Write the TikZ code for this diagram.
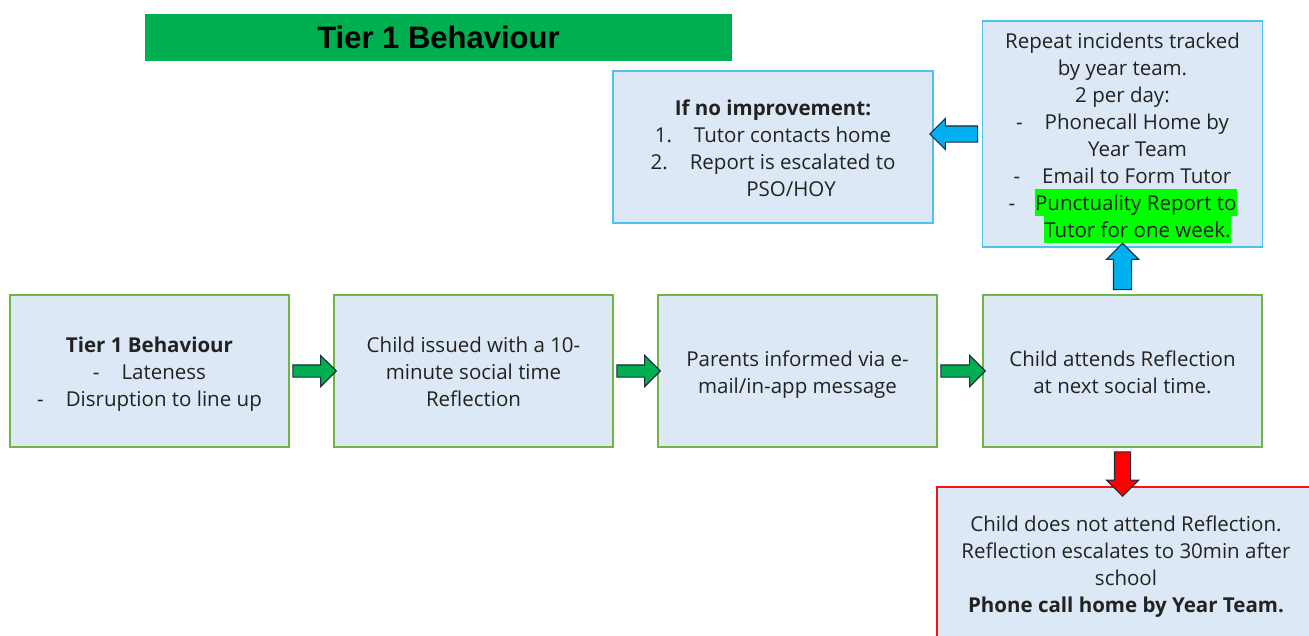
\documentclass[tikz,border=0pt]{standalone}
\usepackage{fontspec}
\setmainfont{Open Sans}
\newfontfamily\headfont{Liberation Sans}
\usetikzlibrary{shapes.arrows,calc}

\definecolor{boxfill}{HTML}{DCE8F5}
\definecolor{greenline}{HTML}{70B544}
\definecolor{blueline}{HTML}{4FC3F0}
\definecolor{redline}{HTML}{FF1010}
\definecolor{titlegreen}{HTML}{00B050}
\definecolor{arrowgreen}{HTML}{00B050}
\definecolor{arrowblue}{HTML}{00B0F0}
\definecolor{arrowred}{HTML}{FF0000}
\definecolor{arrowline}{HTML}{1C2D3E}
\definecolor{bodytext}{HTML}{222222}
\definecolor{hlgreen}{HTML}{00FF00}

% highlighted text run, as tall as one line
\newcommand\hlrun[1]{{\setlength{\fboxsep}{0pt}\colorbox{hlgreen}{\rule[-5.5pt]{0pt}{27pt}#1}}}

% block arrow drawn from one point to another
\newcommand\blockarrow[4]{%
  \path let \p1=(#3), \p2=(#4),
            \n1={atan2(\y2-\y1,\x2-\x1)},
            \n2={veclen(\x2-\x1,\y2-\y1)} in
    ($(\p1)!0.5!(\p2)$) node[#1, rotate=\n1, minimum height=\n2] (#2) {};}

% box with its centred block of text: style, name, position, text
\newcommand\cardnode[4]{%
  \node[#1] (#2) at (#3) {};
  \node[cardtext] (#2-text) at ([yshift=-4pt]#2.center) {#4};}

\tikzset{
  x=1pt, y=-1pt,
  cardtext/.style={font=\fontsize{20.5}{27}\selectfont, text=bodytext,
                   align=center, inner sep=0pt,
                   execute at end node={\rule[-6pt]{0pt}{0pt}}},
  card/.style={draw, line width=1.6pt, fill=boxfill, inner sep=0pt,
               minimum width=#1},
  card/.default=279pt,
  flowcard/.style={card, draw=greenline, minimum height=152pt},
  bluecard/.style={card=#1, draw=blueline},
  blockbase/.style={single arrow, draw=arrowline, line width=1.1pt, inner xsep=0pt,
                    single arrow head indent=0pt, single arrow tip angle=90},
  greenarrow/.style={blockbase, fill=arrowgreen, inner ysep=5.5pt,
                     single arrow head extend=9.5pt},
  bluearrow/.style={blockbase, fill=arrowblue, inner ysep=7.5pt,
                    single arrow head extend=7.5pt},
  uparrow/.style={blockbase, fill=arrowblue, inner ysep=8.5pt,
                  single arrow head extend=7pt},
  redarrow/.style={blockbase, fill=arrowred, inner ysep=7.5pt,
                   single arrow head extend=8pt},
}

\begin{document}
\begin{tikzpicture}
\useasboundingbox (0,0) rectangle (1309,635);
\clip (0,0) rectangle (1309,635);
\fill[white] (0,0) rectangle (1309,635);

% heading bar
\node[fill=titlegreen, minimum width=587pt, minimum height=47pt, inner sep=0pt,
      font=\headfont\bfseries\fontsize{31}{34}\selectfont] (title) at (438.5,37.5)
  {Tier 1 Behaviour};

% main flow
\cardnode{flowcard}{tier}{149.5,371}
  {\textbf{Tier 1 Behaviour}\\
   -\hspace{22pt}Lateness\\
   -\hspace{22pt}Disruption to line up}
\cardnode{flowcard}{issued}{473.5,371}
  {Child issued with a 10-\\minute social time\\Reflection}
\cardnode{flowcard}{parents}{797.5,371}
  {Parents informed via e-\\mail/in-app message}
\cardnode{flowcard}{attends}{1122.5,371}
  {Child attends Reflection\\at next social time.}

% repeat incidents
\cardnode{bluecard=280pt, minimum height=226pt}{repeat}{1122.5,134}
  {Repeat incidents tracked\\
   by year team.\\
   2 per day:\\
   -\hspace{22pt}Phonecall Home by\\
   \hspace*{30pt}Year Team\\
   -\hspace{22pt}Email to Form Tutor\\
   -\hspace{20pt}\hlrun{Punctuality Report to}\\
   \hspace*{30pt}\hlrun{Tutor for one week.}}

% no improvement
\cardnode{bluecard=320pt, minimum height=152pt}{noimp}{773,147}
  {\textbf{If no improvement:}\\
   1.\hspace{22pt}Tutor contacts home\\
   2.\hspace{22pt}Report is escalated to\\
   \hspace*{36pt}PSO/HOY}

% missed reflection
\cardnode{card=378pt, draw=redline, minimum height=152pt}{missed}{1126,563}
  {Child does not attend Reflection.\\
   Reflection escalates to 30min after\\
   school\\
   \textbf{Phone call home by Year Team.}}

% connectors
\blockarrow{greenarrow}{a1}{tier.east}{issued.west}
\blockarrow{greenarrow}{a2}{issued.east}{parents.west}
\blockarrow{greenarrow}{a3}{parents.east}{attends.west}
\blockarrow{uparrow}{a4}{attends.north}{repeat.south}
\blockarrow{bluearrow}{a5}{repeat.west}{repeat.west -| noimp.east}
\coordinate (redtip) at ($(attends.south |- missed.north)+(0,6)$);
\blockarrow{redarrow}{a6}{attends.south}{redtip}
\end{tikzpicture}
\end{document}
